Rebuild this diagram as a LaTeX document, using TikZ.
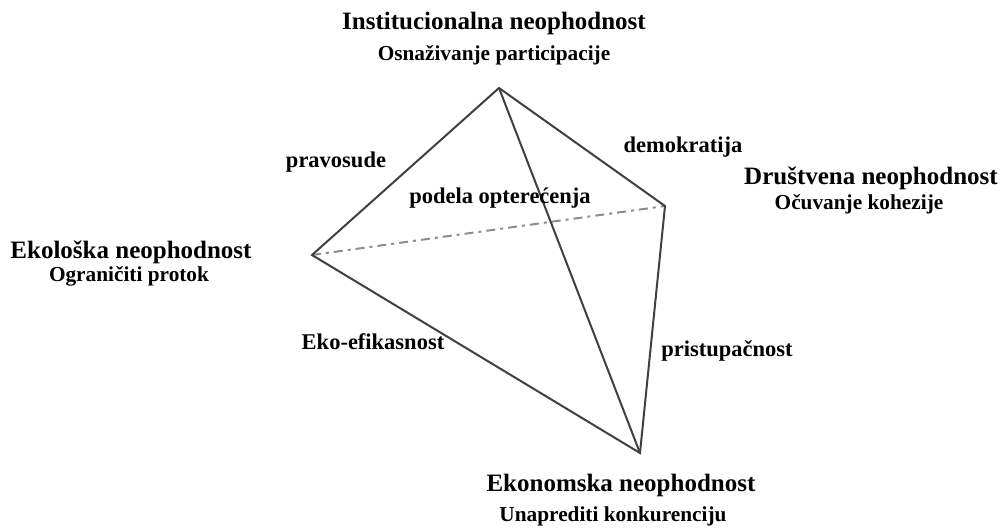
\documentclass[tikz,border=0pt]{standalone}
\usepackage{fontspec}
\setmainfont{Liberation Serif}
\usepackage{tikz}
\usetikzlibrary{calc}

\tikzset{
    edge/.style={draw=black!75, line width=2pt},
    hidden/.style={draw=black!45, line width=2pt, dash pattern=on 9pt off 5pt on 3pt off 5pt},
    heading/.style={font=\bfseries\fontsize{25}{28}\selectfont, inner sep=0pt},
    subheading/.style={font=\bfseries\fontsize{21.3}{24}\selectfont, inner sep=0pt},
    edgelabel/.style={font=\bfseries\fontsize{22.5}{25}\selectfont, inner sep=0pt}
}

\begin{document}
\begin{tikzpicture}[x=1pt, y=-1pt]
    \useasboundingbox (0,0) rectangle (1002,528);

    \coordinate (T) at (499, 88);
    \coordinate (L) at (312, 255);
    \coordinate (R) at (665, 206);
    \coordinate (B) at (640, 453);

    \draw[hidden] (L) -- (R);
    \draw[edge, line join=miter] (L) -- (T) -- (R) -- (B) -- cycle;
    \draw[edge] (T) -- (B);

    \node[heading] (instH) at (494, 23) {Institucionalna neophodnost};
    \node[subheading] (instS) at (494, 55) {Osnaživanje participacije};
    \node[heading] (ekoH) at (131, 252) {Ekološka neophodnost};
    \node[subheading] (ekoS) at (129, 276) {Ograničiti protok};
    \node[heading] (drH) at (871, 178) {Društvena neophodnost};
    \node[subheading] (drS) at (859, 204) {Očuvanje kohezije};
    \node[heading] (ekonH) at (621, 485) {Ekonomska neophodnost};
    \node[subheading] (ekonS) at (613, 516) {Unaprediti konkurenciju};

    \node[edgelabel] (prav) at (336, 162) {pravosude};
    \node[edgelabel] (podela) at (500, 198) {podela opterećenja};
    \node[edgelabel] (demo) at (683, 147) {demokratija};
    \node[edgelabel] (efik) at (373, 342) {Eko-efikasnost};
    \node[edgelabel] (prist) at (727, 351) {pristupačnost};
\end{tikzpicture}
\end{document}
